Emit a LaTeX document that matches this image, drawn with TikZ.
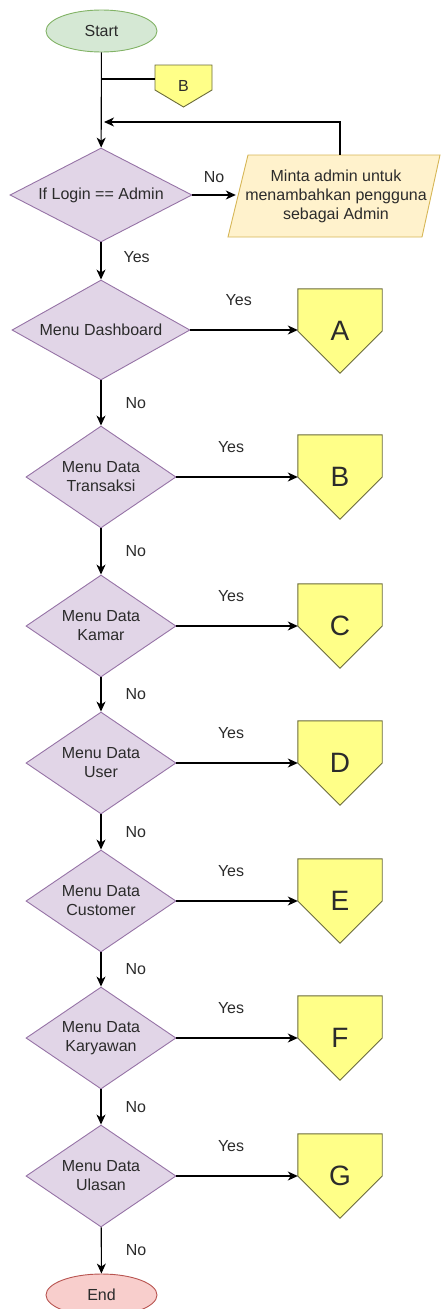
\documentclass[tikz,border=0pt]{standalone}
\usepackage{fontspec}
\setmainfont{Liberation Sans}
\usetikzlibrary{shapes.geometric,arrows.meta,calc}
\pgfdeclarelayer{bg}
\pgfsetlayers{bg,main}
\definecolor{startfill}{HTML}{D5E8D4}
\definecolor{startline}{HTML}{82B366}
\definecolor{decfill}{HTML}{E1D5E7}
\definecolor{decline}{HTML}{9673A6}
\definecolor{iofill}{HTML}{FFF2CC}
\definecolor{ioline}{HTML}{D6B656}
\definecolor{pfill}{HTML}{FFFF88}
\definecolor{pline}{HTML}{6B6B3A}
\definecolor{endfill}{HTML}{F8CECC}
\definecolor{endline}{HTML}{B85450}
\definecolor{txt}{HTML}{2B2B2B}
\tikzset{
  term/.style={ellipse, draw=#1line, fill=#1fill, line width=0.9pt, minimum width=111pt, minimum height=42pt, inner sep=0pt},
  dec/.style n args={3}{diamond, draw=decline, fill=decfill, line width=0.9pt, minimum width=#1pt, minimum height=#2pt, aspect=#3, inner sep=0pt, align=center},
  offpage/.style={minimum width=84pt, minimum height=84pt, inner sep=0pt, font=\fontsize{28}{30}\selectfont},
  pentshape/.style={draw=pline, fill=pfill, line width=0.9pt},
  ioshape/.style={draw=ioline, fill=iofill, line width=0.9pt},
  arr/.style={draw=black, line width=1.1pt, -{Stealth[length=10pt,width=9pt,inset=3pt]}},
  conn/.style={draw=black, line width=1.1pt},
  lbl/.style={inner sep=0pt, text=txt}
}
\begin{document}
\begin{tikzpicture}[x=1pt, y=-1pt, font=\fontsize{16}{19}\selectfont, text=txt]
\useasboundingbox (0,0) rectangle (442,1309);

% nodes
\node[term=start] (start) at (101.5,31) {Start};
\node[minimum width=57pt, minimum height=20pt, inner sep=0pt] (sB) at (183.5,85.5) {B};
\node[dec={182}{94}{1.94}] (login) at (101,195) {If Login == Admin};
\node[minimum width=200pt, minimum height=82pt, inner sep=0pt, align=center] (para) at (336,196)
  {Minta admin untuk\\menambahkan pengguna\\sebagai Admin};
\node[dec={178}{100}{1.78}] (dash) at (101,330) {Menu Dashboard};
\node[dec={150}{102}{1.47}] (trans) at (101,477) {Menu Data\\Transaksi};
\node[dec={150}{102}{1.47}] (kamar) at (101,626) {Menu Data\\Kamar};
\node[dec={150}{102}{1.47}] (user) at (101,763) {Menu Data\\User};
\node[dec={150}{102}{1.47}] (cust) at (101,901) {Menu Data\\Customer};
\node[dec={150}{102}{1.47}] (kary) at (101,1038) {Menu Data\\Karyawan};
\node[dec={150}{102}{1.47}] (ulas) at (101,1176) {Menu Data\\Ulasan};
\node[term=end] (end) at (101.5,1295) {End};

\node[offpage] (pA) at (340,331) {A};
\node[offpage] (pB) at (340,477) {B};
\node[offpage] (pC) at (340,626) {C};
\node[offpage] (pD) at (340,763) {D};
\node[offpage] (pE) at (340,901) {E};
\node[offpage] (pF) at (340,1038) {F};
\node[offpage] (pG) at (340,1176) {G};

\coordinate (j1) at (101,79);
\coordinate (j2) at (104,122);

% shapes drawn behind texts
\begin{pgfonlayer}{bg}
\foreach \n in {pA,pB,pC,pD,pE,pF,pG}{
  \draw[pentshape] (\n.north west) -- (\n.north east) -- (\n.east) -- (\n.south) -- (\n.west) -- cycle;
}
\draw[pentshape] ([shift={(-28.5,-20.5)}]sB.center) -- ([shift={(28.5,-20.5)}]sB.center)
  -- ([shift={(28.5,4.5)}]sB.center) -- ([shift={(0,21.5)}]sB.center)
  -- ([shift={(-28.5,4.5)}]sB.center) -- cycle;
\draw[ioshape] ([shift={(-88,-41)}]para.center) -- ([shift={(104,-41)}]para.center)
  -- ([shift={(86,41)}]para.center) -- ([shift={(-108,41)}]para.center) -- cycle;
\end{pgfonlayer}

% connectors
\draw[arr] (start) -- (login);
\draw[conn] (j1) -- (j1 -| sB.west);
\draw[arr] (login.east) -- (login.east -| para.west) node[lbl, midway, above=12pt] {No};
\draw[arr] ([xshift=4pt]para.north) |- (j2);
\draw[arr] (login) -- (dash) node[lbl, pos=0.4, right=22pt] {Yes};

\draw[arr] (dash) -- (trans) node[lbl, midway, right=24pt] {No};
\draw[arr] (trans) -- (kamar) node[lbl, midway, right=24pt] {No};
\draw[arr] (kamar) -- (user) node[lbl, midway, right=24pt] {No};
\draw[arr] (user) -- (cust) node[lbl, midway, right=24pt] {No};
\draw[arr] (cust) -- (kary) node[lbl, midway, right=24pt] {No};
\draw[arr] (kary) -- (ulas) node[lbl, midway, right=24pt] {No};
\draw[arr] (ulas) -- (end) node[lbl, midway, right=24pt] {No};

\draw[arr] (dash.east) -- (dash.east -| pA.west) node[lbl, pos=0.45, above=24pt] {Yes};
\draw[arr] (trans.east) -- (pB.west) node[lbl, pos=0.45, above=24pt] {Yes};
\draw[arr] (kamar.east) -- (pC.west) node[lbl, pos=0.45, above=24pt] {Yes};
\draw[arr] (user.east) -- (pD.west) node[lbl, pos=0.45, above=24pt] {Yes};
\draw[arr] (cust.east) -- (pE.west) node[lbl, pos=0.45, above=24pt] {Yes};
\draw[arr] (kary.east) -- (pF.west) node[lbl, pos=0.45, above=24pt] {Yes};
\draw[arr] (ulas.east) -- (pG.west) node[lbl, pos=0.45, above=24pt] {Yes};
\end{tikzpicture}
\end{document}
